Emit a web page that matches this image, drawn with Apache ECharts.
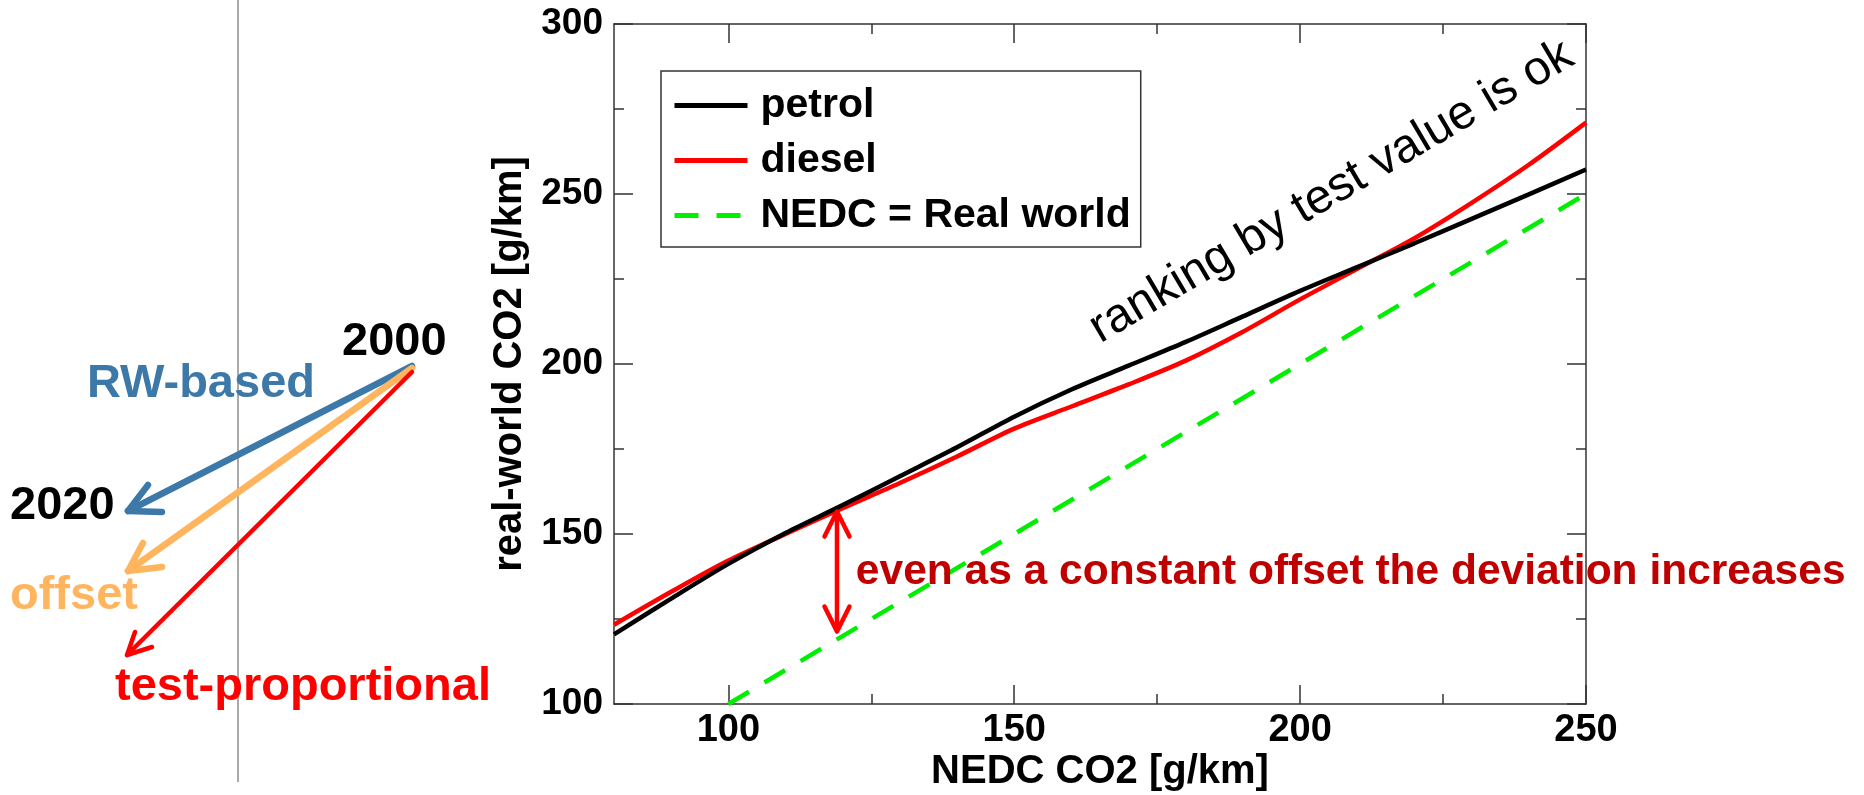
<!DOCTYPE html>
<html>
<head>
<meta charset="utf-8">
<script src="https://cdn.jsdelivr.net/npm/echarts@6/dist/echarts.min.js"></script>
<style>
  html, body { margin: 0; padding: 0; background: #fff; }
  #chart { width: 1864px; height: 795px; }
</style>
</head>
<body>
<div id="chart"></div>
<script>
// NEDC type-approval CO2 vs real-world CO2, g/km
const nedc = [80, 90, 100, 110, 120, 130, 140, 150, 160, 170, 180, 190, 200, 210, 220, 230, 240, 250];
const petrol = [120.5, 131, 141.2, 150.3, 158.5, 167, 175.5, 184.5, 192.5, 199.5, 206.5, 214, 221.5, 228.5, 235.5, 242.7, 249.9, 257.2];
const diesel = [123.3, 133, 142.2, 150, 157.6, 165, 172.8, 181, 187.5, 194, 201, 209.5, 219, 228, 237, 247.4, 258.6, 271];
const identityLine = [100, 250];

const xTicks = [100, 150, 200, 250];
const xMinorTicks = [125, 175, 225];

// notes inside the plot, in data units
const rankingNote = { text: "ranking by test value is ok", x: 205.5, y: 250.6, angle: 30.5 };
const offsetNote = { text: "even as a constant offset the deviation increases", x: 122.3, y: 138.6 };
const gapArrow = { x: 119, yTop: 156.6, yBottom: 121.3 };

const FONT = '"Liberation Sans", Arial, Helvetica, sans-serif';
const AXIS_COLOR = "#333";

const chart = echarts.init(document.getElementById("chart"));

// x axes: two carry the major ticks (bottom+top), two carry the minor ones
function makeX(position, ticks, len, showLine, showLabel) {
  return {
    type: "value",
    position: position,
    min: 80,
    max: 250,
    axisLine: { show: showLine, onZero: false, lineStyle: { color: AXIS_COLOR, width: 1.5 } },
    axisTick: { show: true, inside: true, length: len, customValues: ticks, lineStyle: { color: AXIS_COLOR, width: 1.5 } },
    axisLabel: {
      show: showLabel,
      customValues: ticks,
      margin: 8,
      color: "#000",
      fontFamily: FONT,
      fontWeight: "bold",
      fontSize: 38,
    },
    splitLine: { show: false },
  };
}

function makeY(position, showLabel) {
  return {
    type: "value",
    position: position,
    min: 100,
    max: 300,
    interval: 50,
    axisLine: { show: true, onZero: false, lineStyle: { color: AXIS_COLOR, width: 1.5 } },
    axisTick: { show: true, inside: true, length: 19, lineStyle: { color: AXIS_COLOR, width: 1.5 } },
    minorTick: { show: true, splitNumber: 2, length: 10, lineStyle: { color: AXIS_COLOR, width: 1.5 } },
    axisLabel: {
      show: showLabel,
      margin: 11,
      color: "#000",
      fontFamily: FONT,
      fontWeight: "bold",
      fontSize: 37,
    },
    splitLine: { show: false },
    minorSplitLine: { show: false },
  };
}

const xBottom = makeX("bottom", xTicks, 19, true, true);
xBottom.name = "NEDC CO2 [g/km]";
xBottom.nameLocation = "middle";
xBottom.nameGap = 48;
xBottom.nameMoveOverlap = false;
xBottom.nameTextStyle = { color: "#000", fontFamily: FONT, fontWeight: "bold", fontSize: 40 };

const yLeft = makeY("left", true);
yLeft.name = "real-world CO2 [g/km]";
yLeft.nameLocation = "middle";
yLeft.nameRotate = 90;
yLeft.nameGap = 84;
yLeft.nameMoveOverlap = false;
yLeft.nameTextStyle = { color: "#000", fontFamily: FONT, fontWeight: "bold", fontSize: 40 };

const option = {
  animation: false,
  backgroundColor: "#fff",
  grid: {
    left: 614,
    top: 24,
    width: 972,
    height: 680,
    containLabel: false,
    outerBoundsMode: "none",
  },
  legend: {
    orient: "vertical",
    left: 661,
    top: 71,
    data: ["petrol", "diesel", "NEDC = Real world"],
    backgroundColor: "#fff",
    borderColor: AXIS_COLOR,
    borderWidth: 1.5,
    borderRadius: 0,
    padding: [14, 10, 11, 11],
    itemWidth: 73,
    itemHeight: 30,
    itemGap: 14,
    itemStyle: { opacity: 0 },
    lineStyle: { width: 5 },
    textStyle: {
      color: "#000",
      fontFamily: FONT,
      fontWeight: "bold",
      fontSize: 41,
      lineHeight: 30,
      padding: [0, 0, 0, 8],
    },
    selectedMode: false,
  },
  xAxis: [
    xBottom,
    makeX("top", xTicks, 19, true, false),
    makeX("bottom", xMinorTicks, 10, false, false),
    makeX("top", xMinorTicks, 10, false, false),
  ],
  yAxis: [yLeft, makeY("right", false)],
  series: [
    {
      name: "petrol",
      type: "line",
      data: nedc.map((x, i) => [x, petrol[i]]),
      symbol: "none",
      smooth: 0.3,
      lineStyle: { color: "#000", width: 4.5 },
      itemStyle: { color: "#000" },
      z: 4,
    },
    {
      name: "diesel",
      type: "line",
      data: nedc.map((x, i) => [x, diesel[i]]),
      symbol: "none",
      smooth: 0.3,
      lineStyle: { color: "#ff0000", width: 4.5 },
      itemStyle: { color: "#ff0000" },
      z: 3,
    },
    {
      name: "NEDC = Real world",
      type: "line",
      data: identityLine.map((v) => [v, v]),
      symbol: "none",
      lineStyle: { color: "#00ee00", width: 4.5, type: [24, 18] },
      itemStyle: { color: "#00ee00" },
      z: 2,
    },
  ],
};

chart.setOption(option);

// annotations, placed after layout so data units can be converted
function px(x, y) {
  return chart.convertToPixel({ xAxisIndex: 0, yAxisIndex: 0 }, [x, y]);
}

function textEl(text, x, y, size, color, weight, extra) {
  return Object.assign({
    type: "text",
    x: x,
    y: y,
    z: 100,
    style: {
      text: text,
      font: weight + " " + size + "px " + FONT,
      fill: color,
      align: "left",
      textAlign: "left",
      verticalAlign: "middle",
      textVerticalAlign: "middle",
    },
  }, extra || {});
}

function stroke(points, color, width) {
  return {
    type: "polyline",
    z: 100,
    shape: { points: points },
    style: { stroke: color, lineWidth: width, lineCap: "round", lineJoin: "round", fill: null },
  };
}

const rp = px(rankingNote.x, rankingNote.y);
const op = px(offsetNote.x, offsetNote.y);
const at = px(gapArrow.x, gapArrow.yTop);
const ab = px(gapArrow.x, gapArrow.yBottom);

const BLUE = "#3d79a8";
const ORANGE = "#ffb45e";

const graphics = [
  // thin divider on the left panel
  { type: "line", z: 1, shape: { x1: 238, y1: 0, x2: 238, y2: 782 }, style: { stroke: "#555", lineWidth: 1 } },

  // left panel labels
  textEl("2000", 342, 342, 47, "#000", "bold"),
  textEl("RW-based", 87, 384, 47, BLUE, "bold"),
  textEl("2020", 10, 506, 47, "#000", "bold"),
  textEl("offset", 10, 596, 47, ORANGE, "bold"),
  textEl("test-proportional", 115, 687, 47, "#ff0000", "bold"),

  // left panel arrows
  stroke([[412, 366], [128, 511]], BLUE, 6.5),
  stroke([[148, 485], [128, 511], [162, 512]], BLUE, 6.5),
  stroke([[412, 368], [128, 571]], ORANGE, 6.5),
  stroke([[143, 543], [128, 571], [162, 567]], ORANGE, 6.5),
  stroke([[412, 372], [127, 655]], "#ff0000", 4.5),
  stroke([[135, 632], [127, 655], [152, 647]], "#ff0000", 4.5),

  // plot notes
  {
    type: "text",
    x: rp[0],
    y: rp[1],
    rotation: (rankingNote.angle * Math.PI) / 180,
    z: 100,
    style: {
      text: rankingNote.text,
      font: "normal 48px " + FONT,
      fill: "#000",
      align: "center",
      textAlign: "center",
      verticalAlign: "middle",
      textVerticalAlign: "middle",
    },
  },
  textEl(offsetNote.text, op[0], op[1], 42.5, "#c00000", "bold"),

  // double-headed gap arrow
  stroke([[at[0], at[1] + 2], [ab[0], ab[1] - 2]], "#ff0000", 4.5),
  stroke([[at[0] - 12.5, at[1] + 25], [at[0], at[1]], [at[0] + 12.5, at[1] + 25]], "#ff0000", 4.5),
  stroke([[ab[0] - 12.5, ab[1] - 25], [ab[0], ab[1]], [ab[0] + 12.5, ab[1] - 25]], "#ff0000", 4.5),
];

chart.setOption({ graphic: graphics });
</script>
</body>
</html>
